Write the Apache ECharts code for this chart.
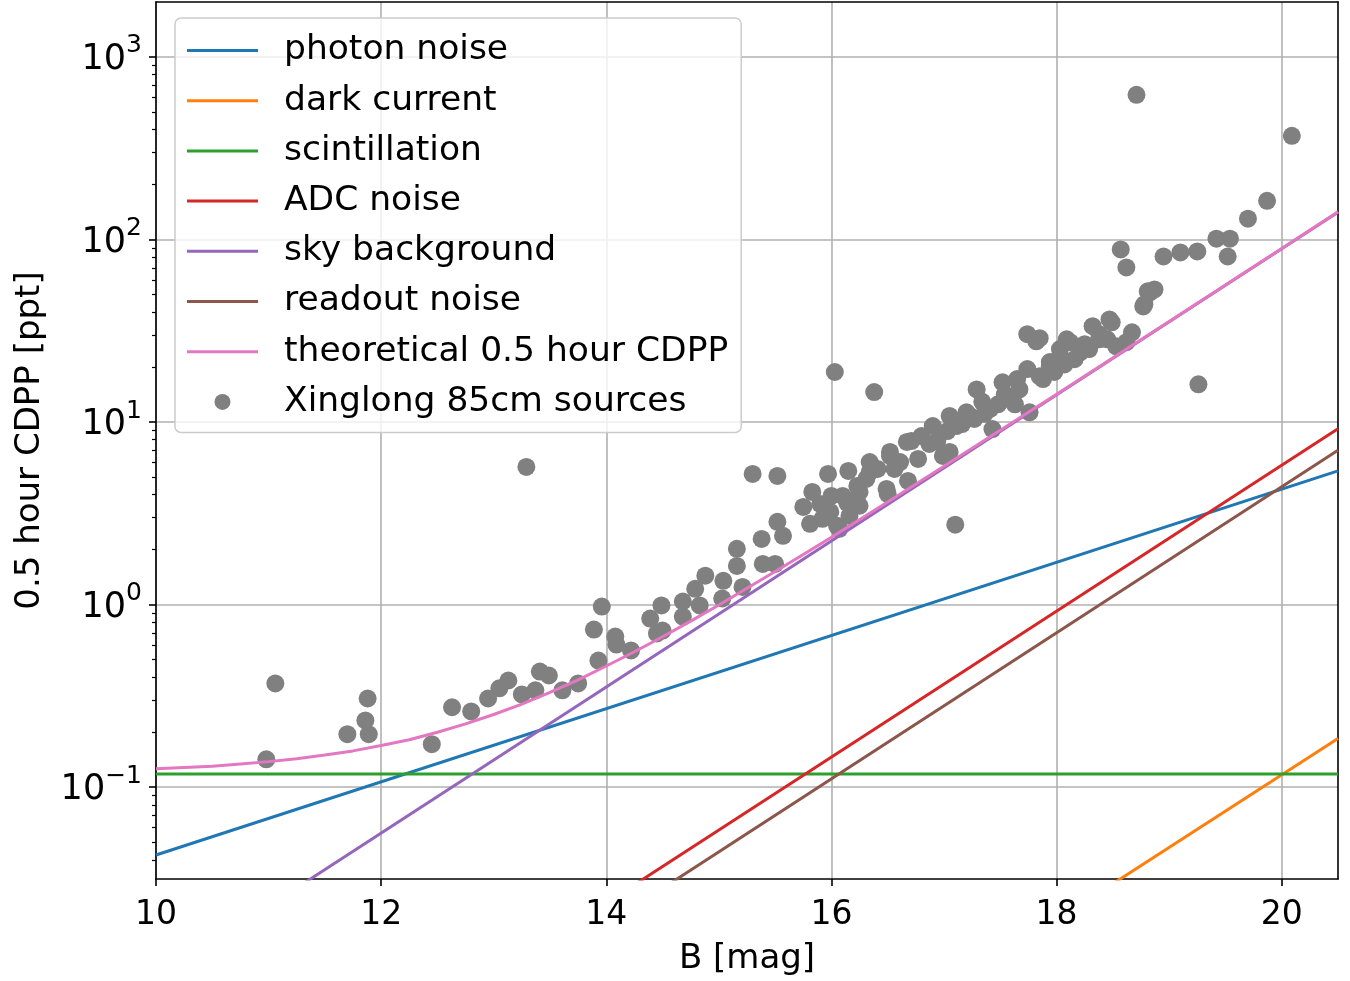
<!DOCTYPE html>
<html>
<head>
<meta charset="utf-8">
<script src="https://cdn.jsdelivr.net/npm/echarts@6/dist/echarts.min.js"></script>
<style>
  html, body { margin: 0; padding: 0; background: #ffffff; }
  #chart { width: 1350px; height: 981px; }
</style>
</head>
<body>
<div id="chart"></div>
<script>
// ---------------- data ----------------
const xTicks = [10, 12, 14, 16, 18, 20];
const yTicks = [0.1, 1, 10, 100, 1000];
const yMinorTicks = [0.04, 0.05, 0.06, 0.07, 0.08, 0.09,
  0.2, 0.3, 0.4, 0.5, 0.6, 0.7, 0.8, 0.9,
  2, 3, 4, 5, 6, 7, 8, 9,
  20, 30, 40, 50, 60, 70, 80, 90,
  200, 300, 400, 500, 600, 700, 800, 900];

// straight model components (B [mag], CDPP [ppt]) read at their ends
const photonB = [10, 20.5];
const photonV = [0.0425, 5.4];
const darkB = [18.0, 20.5];
const darkV = [0.0187, 0.185];
const scintB = [10, 20.5];
const scintV = [0.118, 0.118];
const adcB = [14.0, 20.5];
const adcV = [0.0232, 9.2];
const skyB = [11.0, 20.5];
const skyV = [0.0223, 141];
const readB = [14.5, 20.5];
const readV = [0.0279, 7.0];
// theoretical total
const theoryB = [10, 10.25, 10.5, 10.75, 11, 11.25, 11.5, 11.75, 12, 12.25, 12.5, 12.75, 13, 13.25, 13.5, 13.75,
  14, 14.25, 14.5, 14.75, 15, 15.25, 15.5, 15.75, 16, 16.5, 17, 17.5, 18, 19, 20, 20.5];
const theoryV = [0.126, 0.128, 0.130, 0.134, 0.138, 0.143, 0.150, 0.158, 0.169, 0.182, 0.200, 0.222, 0.250, 0.285, 0.331, 0.387,
  0.461, 0.552, 0.667, 0.812, 0.995, 1.23, 1.52, 1.88, 2.34, 3.65, 5.73, 9.02, 14.2, 35.6, 89.3, 142];

// Xinglong 85cm sources: [B mag, CDPP ppt]
const sources = [
  [10.98,0.142],[11.06,0.370],[11.70,0.195],[11.86,0.232],[11.88,0.306],[11.89,0.195],[12.45,0.172],[12.63,0.274],[12.80,0.260],[12.95,0.306],
  [13.05,0.348],[13.13,0.384],[13.25,0.322],[13.37,0.339],[13.41,0.430],[13.49,0.409],[13.61,0.339],[13.75,0.370],[13.29,5.68],[13.89,0.730],
  [13.93,0.494],[13.96,0.975],[14.08,0.668],[14.09,0.604],[14.22,0.561],[14.39,0.838],[14.49,0.99],[14.45,0.695],[14.50,0.721],[14.68,1.04],
  [14.68,0.86],[14.83,0.99],[14.79,1.22],[14.88,1.44],[15.04,1.35],[15.03,1.08],[15.21,1.25],[15.16,2.02],[15.16,1.63],[15.38,2.29],
  [15.39,1.67],[15.52,2.84],[15.57,2.38],[15.50,1.67],[15.30,5.20],[15.52,5.07],[15.75,3.43],[15.83,4.14],[15.97,5.20],[16.03,18.8],
  [16.15,5.40],[16.34,6.04],[16.52,6.86],[16.67,7.78],[15.92,2.95],[16.05,2.70],[16.07,2.60],[16.10,3.94],[16.23,4.47],[16.25,3.48],
  [16.34,5.34],[16.49,4.30],[16.61,6.04],[15.99,3.22],[16.16,3.06],[16.38,14.6],[17.29,15.1],[16.50,4.04],[16.52,6.52],[16.68,4.76],
  [16.71,7.87],[16.80,8.38],[16.90,9.51],[16.99,6.52],[17.05,10.8],[17.20,11.3],[16.25,4.14],[16.87,7.59],[17.11,9.51],[17.74,30.3],
  [17.82,27.7],[18.09,28.4],[17.52,16.5],[17.74,19.5],[17.43,9.16],[17.76,11.3],[17.23,10.8],[17.34,12.9],[17.65,17.2],[17.88,17.2],
  [17.94,21.3],[18.03,25.1],[18.12,27.4],[17.58,13.4],[17.41,11.8],[17.05,6.86],[18.83,51.3],[18.78,44.2],[18.32,33.5],[18.47,36.5],
  [18.67,31.0],[18.53,26.0],[18.29,25.1],[18.03,22.9],[18.21,24.1],[18.62,27.4],[18.71,620],[20.09,370],[19.87,163],[19.70,130],
  [19.42,101],[19.54,101],[19.52,80.7],[19.25,86.0],[19.10,84.9],[18.95,80.7],[18.57,88.2],[18.62,70.3],[18.87,53.3],[18.77,43.0],
  [19.26,16.1],[18.49,35.2],[18.38,28.4],[18.81,52.0],[17.10,2.74],[17.85,28.8],[17.85,17.8],[17.94,20.2],[15.90,3.56],[16.00,3.94],
  [16.14,3.61],[16.31,4.88],[16.41,5.54],[16.56,5.54],[16.77,6.28],[16.94,7.87],[17.03,8.93],[17.16,9.75],[17.27,10.4],[17.36,11.1],
  [17.48,12.5],[17.54,14.2],[17.67,15.1],[17.63,12.5],[17.98,18.8],[18.07,20.7],[18.16,22.1],[18.25,26.7],[18.38,30.3],[18.45,28.4],
  [15.81,2.77]
];

// ---------------- chart ----------------
const FONT = 'DejaVu Sans';
const zip = (a, b) => a.map((v, i) => [v, b[i]]);
const Y_MIN = 0.0314, Y_MAX = 2000;
const LINE_ICON = 'path://M0,0 H71 V3 H0 Z';

function lineSeries(name, color, xs, ys) {
  return {
    name: name, type: 'line', data: zip(xs, ys),
    symbol: 'none', showSymbol: false, clip: true, z: 3,
    smooth: false,
    lineStyle: { color: color, width: 3 },
    itemStyle: { color: color },
    emphasis: { disabled: true }, animation: false
  };
}

const chart = echarts.init(document.getElementById('chart'), null, { renderer: 'canvas' });

const supFmt = v => {
  const e = Math.round(Math.log10(v));
  return '{b|10}{s|' + (e < 0 ? '\u2212' + (-e) : e) + '}';
};

chart.setOption({
  animation: false,
  backgroundColor: '#ffffff',
  grid: { left: 156, right: 12, top: 2, bottom: 100, show: false, containLabel: false },
  xAxis: [{
    type: 'value', min: 10, max: 20.5, position: 'bottom',
    name: 'B [mag]', nameLocation: 'middle', nameGap: 63,
    nameTextStyle: { fontFamily: FONT, fontSize: 34, color: '#000' },
    axisLine: { show: true, onZero: false, lineStyle: { color: '#000', width: 1.6 } },
    axisTick: { show: true, inside: false, length: 7, customValues: xTicks, lineStyle: { color: '#000', width: 1.6 } },
    axisLabel: { show: true, customValues: xTicks, margin: 20, fontFamily: FONT, fontSize: 33, color: '#000' },
    splitLine: { show: true, lineStyle: { color: '#b0b0b0', width: 1.6 } }
  }, {
    type: 'value', min: 10, max: 20.5, position: 'top',
    axisLine: { show: true, onZero: false, lineStyle: { color: '#000', width: 1.6 } },
    axisTick: { show: false }, axisLabel: { show: false }, splitLine: { show: false }
  }],
  yAxis: [{
    type: 'log', logBase: 10, min: Y_MIN, max: Y_MAX, position: 'left',
    name: '0.5 hour CDPP [ppt]', nameLocation: 'middle', nameGap: 109,
    nameTextStyle: { fontFamily: FONT, fontSize: 34, color: '#000' },
    axisLine: { show: true, onZero: false, lineStyle: { color: '#000', width: 1.6 } },
    axisTick: { show: true, inside: false, length: 7, customValues: yTicks, lineStyle: { color: '#000', width: 1.6 } },
    axisLabel: {
      show: true, customValues: yTicks, margin: 14, formatter: supFmt,
      padding: [0, 0, 3, 0],
      rich: {
        b: { fontFamily: FONT, fontSize: 35, color: '#000', lineHeight: 44, verticalAlign: 'bottom' },
        s: { fontFamily: FONT, fontSize: 25, color: '#000', lineHeight: 44, verticalAlign: 'top' }
      }
    },
    splitLine: { show: true, lineStyle: { color: '#b0b0b0', width: 1.6 } }
  }, {
    type: 'log', logBase: 10, min: Y_MIN, max: Y_MAX, position: 'left',
    axisLine: { show: false },
    axisTick: { show: true, inside: false, length: 4, customValues: yMinorTicks, lineStyle: { color: '#000', width: 1.2 } },
    axisLabel: { show: false }, splitLine: { show: false }
  }, {
    type: 'log', logBase: 10, min: Y_MIN, max: Y_MAX, position: 'right',
    axisLine: { show: true, onZero: false, lineStyle: { color: '#000', width: 1.6 } },
    axisTick: { show: false }, axisLabel: { show: false }, splitLine: { show: false }
  }],
  legend: {
    show: true, orient: 'vertical', left: 175, top: 18,
    padding: [15, 13, 13, 12],
    backgroundColor: 'rgba(255,255,255,0.8)',
    borderColor: '#cccccc', borderWidth: 1.5, borderRadius: 6,
    itemWidth: 71, itemHeight: 16, itemGap: 15.2,
    symbolKeepAspect: true,
    selectedMode: false,
    textStyle: { fontFamily: FONT, fontSize: 34.5, color: '#000', lineHeight: 34, padding: [0, 0, 0, 21] },
    data: [
      { name: 'photon noise', icon: LINE_ICON },
      { name: 'dark current', icon: LINE_ICON },
      { name: 'scintillation', icon: LINE_ICON },
      { name: 'ADC noise', icon: LINE_ICON },
      { name: 'sky background', icon: LINE_ICON },
      { name: 'readout noise', icon: LINE_ICON },
      { name: 'theoretical 0.5 hour CDPP', icon: LINE_ICON },
      { name: 'Xinglong 85cm sources', icon: 'circle' }
    ]
  },
  series: [
    {
      name: 'Xinglong 85cm sources', type: 'scatter', data: sources,
      symbol: 'circle', symbolSize: 18, z: 2,
      itemStyle: { color: '#808080', opacity: 1 },
      emphasis: { disabled: true }
    },
    lineSeries('photon noise', '#1f77b4', photonB, photonV),
    lineSeries('dark current', '#ff7f0e', darkB, darkV),
    lineSeries('scintillation', '#2ca02c', scintB, scintV),
    lineSeries('ADC noise', '#d62728', adcB, adcV),
    lineSeries('sky background', '#9467bd', skyB, skyV),
    lineSeries('readout noise', '#8c564b', readB, readV),
    lineSeries('theoretical 0.5 hour CDPP', '#e377c2', theoryB, theoryV)
  ]
});
</script>
</body>
</html>
